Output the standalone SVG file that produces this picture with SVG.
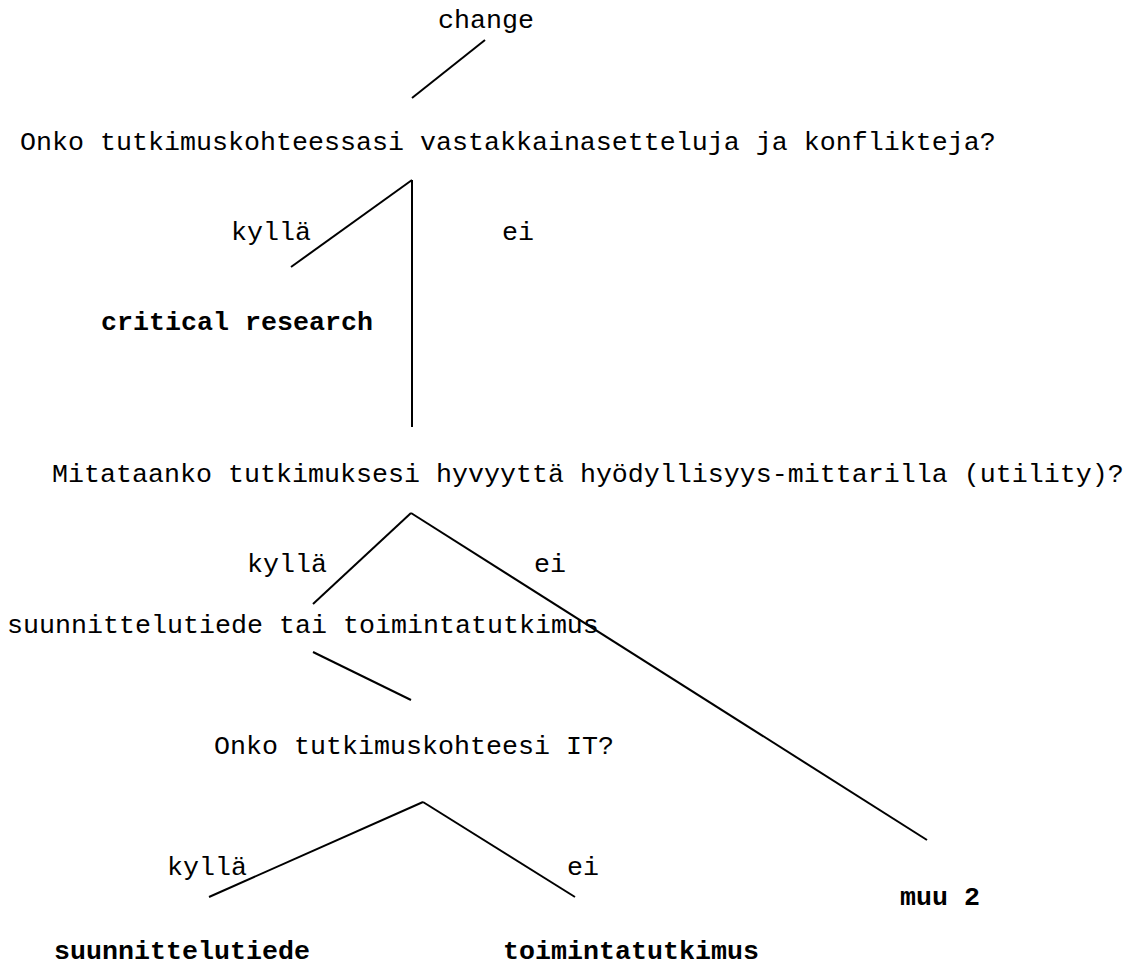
<svg xmlns="http://www.w3.org/2000/svg" width="1128" height="967" viewBox="0 0 1128 967">
  <style>
    text { font-family: "Liberation Mono", "Courier New", monospace; font-size: 26.67px; fill: #000; }
    .b { font-weight: bold; }
    .c line { stroke: #000; stroke-width: 2; fill: none; }
  </style>
  <rect width="1128" height="967" fill="#fff"/>
  <g id="connectors" class="c">
    <line x1="485" y1="40" x2="412" y2="98"/>
    <line x1="412" y1="180" x2="291" y2="267"/>
    <line x1="412" y1="180" x2="412" y2="427"/>
    <line x1="411" y1="513" x2="313" y2="604"/>
    <line x1="411" y1="513" x2="927" y2="840"/>
    <line x1="313" y1="652" x2="411" y2="700"/>
    <line x1="423" y1="802" x2="209" y2="897"/>
    <line x1="423" y1="802" x2="575" y2="897"/>
  </g>
  <g id="edge-labels">
    <text x="231" y="240">kyllä</text>
    <text x="502" y="240">ei</text>
    <text x="247" y="572">kyllä</text>
    <text x="534" y="572">ei</text>
    <text x="167" y="875">kyllä</text>
    <text x="567" y="875">ei</text>
  </g>
  <g id="n-change"><text x="438" y="28">change</text></g>
  <g id="n-q1"><text x="20" y="150">Onko tutkimuskohteessasi vastakkainasetteluja ja konflikteja?</text></g>
  <g id="n-critical"><text class="b" x="101" y="330">critical research</text></g>
  <g id="n-q2"><text x="52" y="482">Mitataanko tutkimuksesi hyvyyttä hyödyllisyys-mittarilla (utility)?</text></g>
  <g id="n-st-tai-tt"><text x="7" y="633">suunnittelutiede tai toimintatutkimus</text></g>
  <g id="n-q3"><text x="214" y="754">Onko tutkimuskohteesi IT?</text></g>
  <g id="n-muu2"><text class="b" x="900" y="905">muu 2</text></g>
  <g id="n-st"><text class="b" x="54" y="959">suunnittelutiede</text></g>
  <g id="n-tt"><text class="b" x="503" y="959">toimintatutkimus</text></g>
</svg>
